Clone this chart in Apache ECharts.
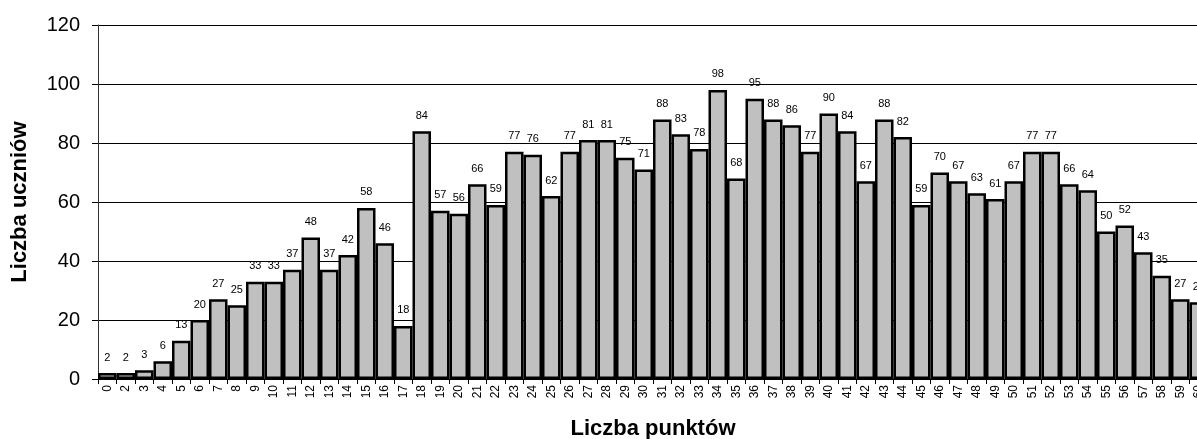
<!DOCTYPE html>
<html>
<head>
<meta charset="utf-8">
<script src="https://cdn.jsdelivr.net/npm/echarts@6/dist/echarts.min.js"></script>
<style>
html,body{margin:0;padding:0;background:#fff;}
#chart{width:1197px;height:439px;}
</style>
</head>
<body>
<div id="chart"></div>
<script>
const categories = ['0','2','3','4','5','6','7','8','9','10','11','12','13','14','15','16','17','18','19','20','21','22','23','24','25','26','27','28','29','30','31','32','33','34','35','36','37','38','39','40','41','42','43','44','45','46','47','48','49','50','51','52','53','54','55','56','57','58','59','60'];
const counts = [2,2,3,6,13,20,27,25,33,33,37,48,37,42,58,46,18,84,57,56,66,59,77,76,62,77,81,81,75,71,88,83,78,98,68,95,88,86,77,90,84,67,88,82,59,70,67,63,61,67,77,77,66,64,50,52,43,35,27,26];
const yTicks = [0,20,40,60,80,100,120];
const xTitle = 'Liczba punktów';
const yTitle = 'Liczba uczniów';

const chart = echarts.init(document.getElementById('chart'));
const FONT = 'Liberation Sans, Arial, sans-serif';
chart.setOption({
  animation: false,
  backgroundColor: '#fff',
  grid: {left: 98, right: -11, top: 25, bottom: 60, outerBoundsMode: 'none', containLabel: false},
  xAxis: {
    type: 'category',
    data: categories,
    name: xTitle,
    nameLocation: 'middle',
    nameGap: 39,
    nameTextStyle: {fontFamily: FONT, fontSize: 22, fontWeight: 'bold', color: '#000'},
    axisLine: {lineStyle: {color: '#000', width: 1}},
    axisTick: {show: true, length: 5, lineStyle: {color: '#000'}},
    axisLabel: {rotate: 90, interval: 0, fontFamily: FONT, fontSize: 12, color: '#000', margin: 6},
    splitLine: {show: false}
  },
  yAxis: {
    type: 'value',
    min: yTicks[0],
    max: yTicks[yTicks.length - 1],
    interval: 20,
    name: yTitle,
    nameLocation: 'middle',
    nameGap: 67,
    nameTextStyle: {fontFamily: FONT, fontSize: 22, fontWeight: 'bold', color: '#000'},
    axisLine: {show: true, lineStyle: {color: '#333', width: 1}},
    axisTick: {show: true, length: 6, inside: false, lineStyle: {color: '#000'}},
    axisLabel: {fontFamily: FONT, fontSize: 20, color: '#000', margin: 18},
    splitLine: {show: true, lineStyle: {color: '#000', width: 1}}
  },
  series: [{
    type: 'bar',
    data: counts,
    barCategoryGap: '0%',
    itemStyle: {color: '#c0c0c0', borderColor: '#000', borderWidth: 2.5},
    label: {show: true, position: 'top', distance: 10, fontFamily: FONT, fontSize: 11, color: '#000'}
  }]
});
</script>
</body>
</html>
